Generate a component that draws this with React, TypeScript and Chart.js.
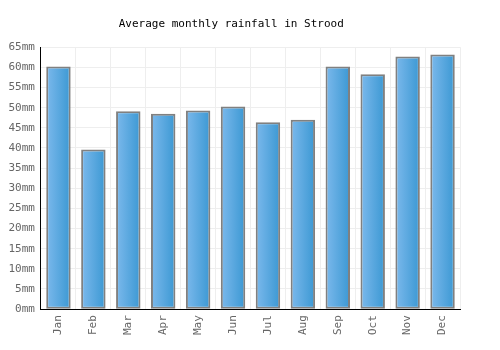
import React, { useEffect, useRef } from "react";
import { Chart, registerables } from "chart.js";

Chart.register(...registerables);

const months = ["Jan", "Feb", "Mar", "Apr", "May", "Jun", "Jul", "Aug", "Sep", "Oct", "Nov", "Dec"];
const rainfall = [60.2, 39.6, 49.1, 48.5, 49.3, 50.3, 46.4, 47.0, 60.2, 58.3, 62.7, 63.2];
const yMax = 65;
const yStep = 5;
const titleText = "Average monthly rainfall in Strood";

const FONT = "'DejaVu Sans Mono', monospace";

export default function App() {
  const ref = useRef<HTMLCanvasElement | null>(null);
  useEffect(() => {
    document.body.style.margin = "0";
    const canvas = ref.current!;
    const barPct = 0.7;
    const chart = new Chart(canvas, {
      type: "bar",
      data: {
        labels: months,
        datasets: [
          {
            data: rainfall,
            borderColor: "#808080",
            borderWidth: 2,
            borderSkipped: false,
            barPercentage: barPct,
            categoryPercentage: 1,
            backgroundColor: (ctx: any) => {
              const c = ctx.chart;
              const xs = c.scales && c.scales.x;
              if (!xs || ctx.dataIndex === undefined || !c.chartArea) return "#5aa8e0";
              const center = xs.getPixelForValue(ctx.dataIndex);
              const w = (xs.width / months.length) * barPct;
              const g = c.ctx.createLinearGradient(center - w / 2, 0, center + w / 2, 0);
              g.addColorStop(0, "#7cb9ec");
              g.addColorStop(1, "#3b98d3");
              return g;
            },
          },
        ],
      },
      options: {
        responsive: false,
        animation: false,
        layout: { padding: { left: 2.5, right: 40, top: 0, bottom: 9 } },
        plugins: {
          legend: { display: false },
          tooltip: { enabled: false },
          title: {
            display: true,
            text: titleText,
            color: "#000",
            font: { family: FONT, size: 11, weight: "normal" },
            padding: { top: 18, bottom: 16 },
          },
        },
        scales: {
          x: {
            grid: { color: "#eeeeee", drawTicks: false, offset: true },
            border: { color: "#000", width: 1 },
            ticks: {
              color: "#666",
              font: { family: FONT, size: 11 },
              minRotation: 90,
              maxRotation: 90,
              padding: 6,
            },
          },
          y: {
            min: 0,
            max: yMax,
            grid: { color: "#eeeeee", drawTicks: false },
            border: { color: "#000", width: 1 },
            ticks: {
              stepSize: yStep,
              color: "#666",
              font: { family: FONT, size: 11 },
              padding: 6,
              callback: (v: any) => v + "mm",
            },
          },
        },
      },
    } as any);
    return () => chart.destroy();
  }, []);
  return (
    <div style={{ width: 500, height: 350 }}>
      <canvas ref={ref} width={500} height={350} />
    </div>
  );
}
